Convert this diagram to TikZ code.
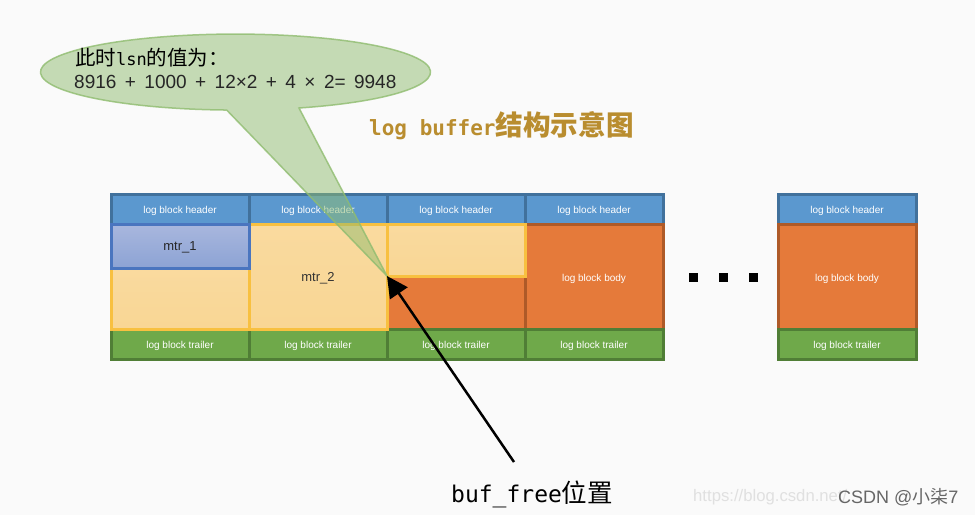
\documentclass[tikz,border=0pt]{standalone}
\usepackage{fontspec}
\setmainfont{Liberation Sans}
\newfontfamily\cjk{Noto Sans CJK SC}
\newfontfamily\monofam{DejaVu Sans Mono}
\newfontfamily\sumfam[WordSpace=1.6]{Liberation Sans}
\usetikzlibrary{positioning,arrows.meta}
\definecolor{pagebg}{HTML}{FAFAFA}
\definecolor{hdrfill}{HTML}{5B98CF}
\definecolor{hdrline}{HTML}{41719C}
\definecolor{bodyfill}{HTML}{E57A3A}
\definecolor{bodyline}{HTML}{AE5A28}
\definecolor{trlfill}{HTML}{6FA94A}
\definecolor{trlline}{HTML}{507E36}
\definecolor{mtrfill}{HTML}{F9D694}
\definecolor{mtrline}{HTML}{F8C040}
\definecolor{bluetop}{HTML}{A9B7DE}
\definecolor{bluebot}{HTML}{8CA3D4}
\definecolor{blueline}{HTML}{4A75BF}
\definecolor{bubble}{HTML}{8FBC6F}
\definecolor{titlecol}{HTML}{B98D2F}
\tikzset{
  block/.style={draw,line width=3pt,minimum width=138pt,inner sep=0pt,outer sep=0pt,text=white,font=\fontsize{10}{12}\selectfont,text height=9.2pt,text depth=0pt},
  hdr/.style={block,fill=hdrfill,draw=hdrline,minimum height=30pt},
  bodyblk/.style={block,fill=bodyfill,draw=bodyline,minimum height=105pt},
  trl/.style={block,fill=trlfill,draw=trlline,minimum height=30pt},
  mtr/.style={block,top color=mtrfill!90!white,bottom color=mtrfill,draw=mtrline,text=black!80,font=\fontsize{13}{15}\selectfont,text height=9pt,text depth=0pt},
  dotblk/.style={fill=black,minimum size=9pt,inner sep=0pt,outer sep=0pt}
}
\begin{document}
\begin{tikzpicture}[x=1pt,y=-1pt,node distance=0pt,>={Triangle[length=21pt,width=21pt]}]
  \fill[pagebg] (0,0) rectangle (975,515);
  \useasboundingbox (0,0) rectangle (975,515);
  \node[hdr,anchor=north west] (hdrA) at (111,194) {log block header};
  \node[hdr] (hdrB) [right=of hdrA] {log block header};
  \node[hdr] (hdrC) [right=of hdrB] {log block header};
  \node[hdr] (hdrD) [right=of hdrC] {log block header};
  \node[hdr,anchor=north west] (hdrE) at (778,194) {log block header};
  \node[bodyblk] (bodyC) [below=of hdrC] {};
  \node[bodyblk] (bodyD) [below=of hdrD] {log block body};
  \node[bodyblk] (bodyE) [below=of hdrE] {log block body};
  \node[trl] (trlA) at (hdrA |- bodyC.south) [anchor=north] {log block trailer};
  \node[trl] (trlB) [right=of trlA] {log block trailer};
  \node[trl] (trlC) [right=of trlB] {log block trailer};
  \node[trl] (trlD) [right=of trlC] {log block trailer};
  \node[trl] (trlE) at (hdrE |- bodyE.south) [anchor=north] {log block trailer};
  \node[mtr,minimum height=61pt,anchor=south] (mtrA) at (trlA.north) {};
  \node[mtr,minimum height=105pt] (mtrB) [below=of hdrB] {mtr\_2};
  \node[mtr,minimum height=52pt] (mtrC) [below=of hdrC] {};
  \node[mtr,top color=bluetop,bottom color=bluebot,draw=blueline,text=black!85,minimum height=44pt] (mtrD) [below=of hdrA] {mtr\_1};
  \node[dotblk] (dotA) at (693,277) {};
  \node[dotblk] (dotB) [right=21pt of dotA] {};
  \node[dotblk] (dotC) [right=21pt of dotB] {};
  % speech bubble
  \filldraw[fill=bubble,draw=bubble,line width=1.5pt,fill opacity=0.5,draw opacity=0.8] (mtrC.south west) -- (299,108) arc[start angle=-71,end angle=267.4,x radius=195pt,y radius=38pt] -- cycle;
  \node[anchor=west,inner sep=0pt,font=\fontsize{20.5}{25}\selectfont\cjk] (lsnText) at (75,58) {此时{\monofam\fontsize{17}{25}\selectfont lsn}的值为：};
  \node[anchor=west,inner sep=0pt,font=\fontsize{19}{25}\selectfont\sumfam,text=black!85] (sumText) at (74,82) {8916 + 1000 + 12×2 + 4 × 2= 9948};
  \node[anchor=west,text=titlecol,inner sep=0pt] (title) at (369,126) {{\monofam\bfseries\fontsize{21}{25}\selectfont log buffer}{\cjk\bfseries\fontsize{27.6}{30}\selectfont 结构示意图}};
  \node[anchor=west,inner sep=0pt] (bufFree) at (451,494) {{\monofam\fontsize{23}{26}\selectfont buf\_free}{\cjk\fontsize{25.5}{28}\selectfont 位置}};
  \coordinate (arrowStart) at (514,462);
  \draw[->,line width=2.5pt] (arrowStart) -- (mtrC.south west);
  % watermarks
  \node[anchor=west,inner sep=0pt,text=black!12,font=\fontsize{16.7}{20}\selectfont] (wmUrl) at (693,497) {https://blog.csdn.net/};
  \node[anchor=west,inner sep=0pt,text=black!60,font=\fontsize{18}{22}\selectfont] (wmName) at (838,497) {CSDN @{\cjk 小柒}7};
\end{tikzpicture}
\end{document}
